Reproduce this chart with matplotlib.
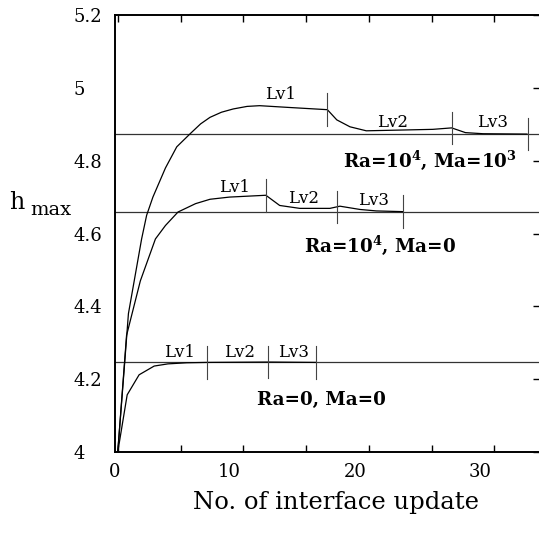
import numpy as np
import matplotlib
matplotlib.use("Agg")
import matplotlib.pyplot as plt
from matplotlib.transforms import ScaledTranslation

plt.rcParams['font.family'] = ['DejaVu Serif']
plt.rcParams['mathtext.fontset'] = 'dejavuserif'

# ---- data ----
# Ra=1e4, Ma=1e3
x_a = [0, 0.55, 0.85, 1.9, 2.3, 2.8, 3.8, 4.7, 5.8, 6.6, 7.35, 8.26, 9.2, 10.3, 11.3,
       13.7, 16.7, 17.45, 18.5, 19.8, 22.5, 25.1, 26.6, 27.7, 29.1, 32.6]
y_a = [4.0, 4.245, 4.38, 4.585, 4.65, 4.70, 4.78, 4.838, 4.875, 4.901, 4.919, 4.933,
       4.942, 4.949, 4.951, 4.946, 4.94, 4.912, 4.893, 4.882, 4.884, 4.886, 4.890,
       4.877, 4.874, 4.873]
# Ra=1e4, Ma=0
x_b = [0, 0.7, 1.8, 3.0, 3.8, 4.8, 6.2, 7.35, 8.9, 11.8, 12.9, 14.5, 16.9, 17.7,
       19.3, 20.6, 22.75]
y_b = [4.0, 4.32, 4.47, 4.585, 4.622, 4.659, 4.682, 4.694, 4.70, 4.705, 4.677,
       4.669, 4.669, 4.675, 4.666, 4.662, 4.660]
# Ra=0, Ma=0
x_c = [0, 0.75, 1.7, 2.9, 4.0, 5.5, 7.1, 12.0, 15.8]
y_c = [4.0, 4.157, 4.212, 4.236, 4.242, 4.245, 4.246, 4.247, 4.246]

ref_levels = [4.873, 4.660, 4.246]
bounds_a = [16.7, 26.6, 32.65]
bounds_b = [11.8, 17.43, 22.75]
bounds_c = [7.08, 12.0, 15.8]

lv_labels = ["Lv1", "Lv2", "Lv3"]
lv_x_a = [12.94, 21.87, 29.85]; lv_y_a = [4.981, 4.905, 4.905]
lv_x_b = [9.34, 14.84, 20.4];   lv_y_b = [4.727, 4.697, 4.69]
lv_x_c = [4.96, 9.68, 14.0];    lv_y_c = [4.274, 4.272, 4.272]

case_labels = [r'Ra=10$^{\mathbf{4}}$, Ma=10$^{\mathbf{3}}$',
               r'Ra=10$^{\mathbf{4}}$, Ma=0',
               r'Ra=0, Ma=0']
case_x = [24.86, 20.9, 16.25]
case_y = [4.80, 4.566, 4.143]

x_ticks = [0, 5, 10, 15, 20, 25, 30]
x_tick_labels = ["0", "", "10", "", "20", "", "30"]
y_ticks = [4.0, 4.2, 4.4, 4.6, 4.8, 5.0, 5.2]
y_tick_labels = ["4", "4.2", "4.4", "4.6", "4.8", "5", "5.2"]

# ---- figure ----
W = H = 539
fig = plt.figure(figsize=(W / 100, H / 100), dpi=100)
ax = fig.add_axes([115 / W, 1 - 452 / H, 1 - 115 / W, (452 - 15) / H])
ax.set_xlim(-0.22, 33.56)
ax.set_ylim(4.0, 5.2)

for lv in ref_levels:
    ax.axhline(lv, color='#333333', lw=0.9, zorder=1)

for xs, ys, bnds in [(x_a, y_a, bounds_a), (x_b, y_b, bounds_b), (x_c, y_c, bounds_c)]:
    ax.plot(xs, ys, color='black', lw=0.9, zorder=2)
    for b in bnds:
        yc = np.interp(b, xs, ys)
        ax.plot([b, b], [yc - 0.045, yc + 0.045], color='#444444', lw=0.8, zorder=2)

for lx, ly in [(lv_x_a, lv_y_a), (lv_x_b, lv_y_b), (lv_x_c, lv_y_c)]:
    for t, xx, yy in zip(lv_labels, lx, ly):
        ax.text(xx, yy, t, ha='center', va='center', fontsize=12)

for t, xx, yy in zip(case_labels, case_x, case_y):
    ax.text(xx, yy, t, ha='center', va='center', fontsize=13.2, fontweight='bold')

ax.set_xticks(x_ticks)
ax.set_xticklabels(x_tick_labels)
ax.set_yticks(y_ticks)
ax.set_yticklabels(y_tick_labels)
ax.tick_params(axis='x', direction='in', top=True, bottom=True, length=5,
               width=1, labelsize=13, pad=8)
ax.tick_params(axis='y', direction='in', left=False, right=True, labelleft=True,
               labelright=False, length=4, width=1, labelsize=13, pad=30)
for lab in ax.get_yticklabels():
    lab.set_horizontalalignment('left')
for lab in ax.get_xticklabels():
    if lab.get_text() in ("10", "20", "30"):
        lab.set_transform(lab.get_transform() + ScaledTranslation(-14 / 100, 0, fig.dpi_scale_trans))
    elif lab.get_text() == "0":
        lab.set_transform(lab.get_transform() + ScaledTranslation(-3 / 100, 0, fig.dpi_scale_trans))

ax.spines['right'].set_visible(False)
for s in ['left', 'bottom', 'top']:
    ax.spines[s].set_linewidth(1.4)

fig.text(336 / W, 1 - 503 / H, "No. of interface update", ha='center', va='center', fontsize=17.5)
fig.text(9 / W, 1 - 209 / H, "h", ha='left', va='baseline', fontsize=17)
fig.text(30 / W, 1 - 215 / H, "max", ha='left', va='baseline', fontsize=14)

fig.savefig("out.png", dpi=100)
